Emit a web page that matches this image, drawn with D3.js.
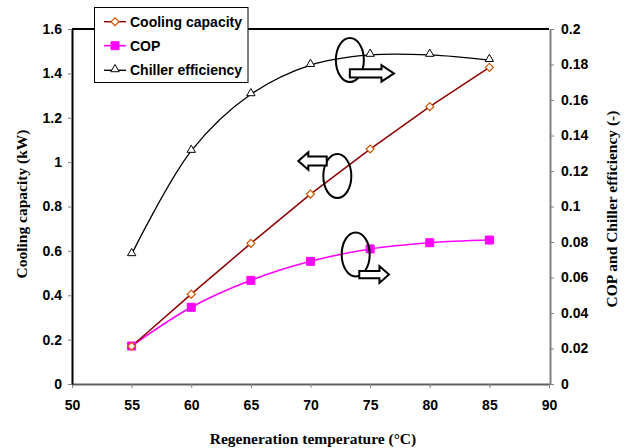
<!DOCTYPE html>
<html><head><meta charset="utf-8">
<script src="https://cdn.jsdelivr.net/npm/d3@7"></script>
<style>
html,body{margin:0;padding:0;background:#fff;}
svg{display:block;}
</style></head>
<body>
<svg id="chart" width="630" height="448"></svg>
<script>
const temps = [55, 60, 65, 70, 75, 80, 85];
const coolingCapacity = [0.17, 0.405, 0.634, 0.856, 1.059, 1.25, 1.427];
const cop = [0.0214, 0.0432, 0.0584, 0.0691, 0.0761, 0.0796, 0.0811];
const chillerEff = [0.0731, 0.1313, 0.1632, 0.1797, 0.1854, 0.1854, 0.1825];
const xTicks = [50, 55, 60, 65, 70, 75, 80, 85, 90];
const yLeftTicks = [0, 0.2, 0.4, 0.6, 0.8, 1, 1.2, 1.4, 1.6];
const yRightTicks = [0, 0.02, 0.04, 0.06, 0.08, 0.1, 0.12, 0.14, 0.16, 0.18, 0.2];
const seriesNames = ["Cooling capacity", "COP", "Chiller efficiency"];
// annotation anchors in data units (x: °C, y: kW on left axis)
const ellipses = [[73.3, 1.46], [72.25, 0.937], [73.79, 0.584]];
const arrows = [[73.3, 77.0, 1.40], [71.36, 68.98, 1.005], [74.09, 76.58, 0.493]];

const svg = d3.select("#chart");
const L = 72, R = 549, T = 29, B = 384;
const x = d3.scaleLinear().domain([50, 90]).range([L, R]);
const yL = d3.scaleLinear().domain([0, 1.6]).range([B, T]);
const yR = d3.scaleLinear().domain([0, 0.2]).range([B, T]);

const tickFont = "Arial, 'Liberation Sans', sans-serif";
const titleFont = "'Times New Roman', 'Liberation Serif', serif";

// top border
svg.append("line").attr("x1", L).attr("x2", R).attr("y1", T).attr("y2", T)
  .attr("stroke", "#000").attr("stroke-width", 2);

function styleAxis(g, domainColor) {
  g.select(".domain").attr("stroke", domainColor).attr("stroke-width", 2);
  g.selectAll(".tick line").attr("stroke", "#808080").attr("stroke-width", 1);
  g.selectAll(".tick text").attr("font-family", tickFont).attr("font-weight", "bold")
    .attr("font-size", 14).attr("fill", "#000");
}

const gx = svg.append("g").attr("transform", `translate(0,${B})`)
  .call(d3.axisBottom(x).tickValues(xTicks).tickSizeInner(4).tickSizeOuter(0).tickPadding(12).tickFormat(d3.format("d")));
styleAxis(gx, "#606060");

const gr = svg.append("g").attr("transform", `translate(${R + 1},0)`)
  .call(d3.axisRight(yR).tickValues(yRightTicks).tickSizeInner(4).tickSizeOuter(0).tickPadding(7).tickFormat(d => d === 0 ? "0" : String(+d.toFixed(2))));
styleAxis(gr, "#808080");

const gl = svg.append("g").attr("transform", `translate(${L},0)`)
  .call(d3.axisLeft(yL).tickValues(yLeftTicks).tickSizeInner(4).tickSizeOuter(0).tickPadding(6).tickFormat(d => String(+d.toFixed(1))));
styleAxis(gl, "#000");

// axis titles
svg.append("text").attr("x", 313).attr("y", 444).attr("text-anchor", "middle")
  .attr("font-family", titleFont).attr("font-weight", "bold").attr("font-size", 15.5)
  .text("Regeneration temperature (\u00B0C)");
svg.append("text").attr("transform", "translate(27,204) rotate(-90)").attr("text-anchor", "middle")
  .attr("font-family", titleFont).attr("font-weight", "bold").attr("font-size", 15.5)
  .text("Cooling capacity (kW)");
svg.append("text").attr("transform", "translate(617,209) rotate(-90)").attr("text-anchor", "middle")
  .attr("font-family", titleFont).attr("font-weight", "bold").attr("font-size", 15.5)
  .text("COP and Chiller efficiency (-)");

const plot = svg.append("g");
const lineLin = d3.line().x(d => d[0]).y(d => d[1]);
const lineSmooth = d3.line().x(d => d[0]).y(d => d[1]).curve(d3.curveCatmullRom.alpha(0.5));

const ccPts = temps.map((t, i) => [x(t), yL(coolingCapacity[i])]);
const copPts = temps.map((t, i) => [x(t), yR(cop[i])]);
const chPts = temps.map((t, i) => [x(t), yR(chillerEff[i])]);

plot.append("path").attr("d", lineSmooth(chPts)).attr("fill", "none").attr("stroke", "#000").attr("stroke-width", 1.3);
plot.append("path").attr("d", lineSmooth(copPts)).attr("fill", "none").attr("stroke", "#FF00FF").attr("stroke-width", 1.6);
plot.append("path").attr("d", lineLin(ccPts)).attr("fill", "none").attr("stroke", "#8B0000").attr("stroke-width", 1.5);

const diamond = d3.symbol().type(d3.symbolDiamond2).size(40);
const square = d3.symbol().type(d3.symbolSquare).size(64);
const tri = d3.symbol().type(d3.symbolTriangle2).size(50);

function drawMarkers(g, pts, kind) {
  pts.forEach(p => drawMarker(g, p[0], p[1], kind));
}
function drawMarker(g, px, py, kind) {
  if (kind === 0) {
    g.append("path").attr("d", diamond()).attr("transform", `translate(${px},${py})`)
      .attr("fill", "#fff").attr("stroke", "#CC5500").attr("stroke-width", 1.2);
  } else if (kind === 1) {
    g.append("path").attr("d", square()).attr("transform", `translate(${px},${py})`)
      .attr("fill", "#FF00FF").attr("stroke", "#FF00FF").attr("stroke-width", 1);
  } else {
    g.append("path").attr("d", tri()).attr("transform", `translate(${px},${py - 1})`)
      .attr("fill", "#fff").attr("stroke", "#000").attr("stroke-width", 1);
  }
}
drawMarkers(plot, chPts, 2);
drawMarkers(plot, copPts, 1);
drawMarkers(plot, ccPts, 0);

// annotations
const ann = svg.append("g");
ellipses.forEach(e => {
  ann.append("ellipse").attr("cx", x(e[0])).attr("cy", yL(e[1])).attr("rx", 14).attr("ry", 22)
    .attr("fill", "none").attr("stroke", "#000").attr("stroke-width", 2);
});
function arrowPath(x0, x1, y, bh, hh, hl) {
  const dir = x1 > x0 ? 1 : -1;
  const xb = x1 - dir * hl;
  return `M${x0},${y - bh}L${xb},${y - bh}L${xb},${y - hh}L${x1},${y}L${xb},${y + hh}L${xb},${y + bh}L${x0},${y + bh}Z`;
}
const arrowDims = [[4.2, 8.3, 12.5], [4.5, 8.7, 10], [3.7, 8.3, 9.5]];
arrows.forEach((a, i) => {
  const d = arrowDims[i];
  ann.append("path").attr("d", arrowPath(x(a[0]), x(a[1]), yL(a[2]), d[0], d[1], d[2]))
    .attr("fill", "#fff").attr("stroke", "#000").attr("stroke-width", 2).attr("stroke-linejoin", "miter");
});

// legend
const lg = svg.append("g");
lg.append("rect").attr("x", 94.5).attr("y", 7.5).attr("width", 153.5).attr("height", 75)
  .attr("fill", "#fff").attr("stroke", "#000").attr("stroke-width", 1);
const legendY = [21.7, 45.7, 70.3];
const legendColors = ["#8B0000", "#FF00FF", "#000"];
seriesNames.forEach((name, i) => {
  lg.append("line").attr("x1", 104).attr("x2", 126).attr("y1", legendY[i]).attr("y2", legendY[i])
    .attr("stroke", legendColors[i]).attr("stroke-width", i === 1 ? 1.6 : 1.4);
  drawMarker(lg, 115, legendY[i], i);
  lg.append("text").attr("x", 130).attr("y", legendY[i]).attr("dy", "0.35em")
    .attr("font-family", tickFont).attr("font-weight", "bold").attr("font-size", 14)
    .text(name);
});
</script>
</body></html>
